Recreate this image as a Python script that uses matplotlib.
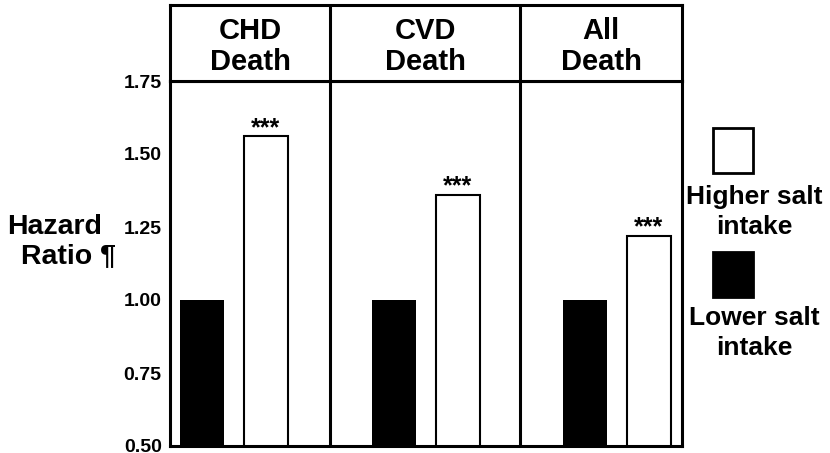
import numpy as np
import matplotlib.pyplot as plt
from matplotlib.patches import Rectangle

plt.rcParams['font.family'] = ['Liberation Sans', 'DejaVu Sans']
plt.rcParams['font.weight'] = 'bold'

# data
panels = ['CHD\nDeath', 'CVD\nDeath', 'All\nDeath']
lower_salt = [1.00, 1.00, 1.00]
higher_salt = [1.56, 1.36, 1.22]
stars = ['***', '***', '***']
yticks = [0.50, 0.75, 1.00, 1.25, 1.50, 1.75]
legend_labels = ['Higher salt\nintake', 'Lower salt\nintake']
ylabel_lines = ['Hazard', 'Ratio \u00b6']

W, H = 830, 453


def fx(x):
    return x / W


def fy(y):
    return 1 - y / H


fig = plt.figure(figsize=(8.3, 4.53), dpi=100)

# panel layout (x in pixel-ish units across the framed area)
xl, xr = 170, 682
edges = [0, 160, 350, 512]
black_x = [32, 224, 415]
gap = 64
bw = 44

ax = fig.add_axes([fx(xl), fy(446), fx(xr - xl), (446 - 81) / H])
hax = fig.add_axes([fx(xl), fy(81), fx(xr - xl), (81 - 5) / H])

for a in (ax, hax):
    for s in a.spines.values():
        s.set_linewidth(2.2)
    a.set_xlim(edges[0], edges[-1])
    for e in edges[1:-1]:
        a.axvline(e, color='black', lw=2.2)

ax.bar(black_x, lower_salt, width=bw, bottom=0, color='black', edgecolor='black', lw=0)
wx = [b + gap for b in black_x]
ax.bar(wx, higher_salt, width=bw, color='white', edgecolor='black', lw=1.5)
for x, v, s in zip(wx, higher_salt, stars):
    ax.annotate(s, (x, v), xytext=(0, 1), textcoords='offset points',
                ha='center', va='baseline', fontsize=18, fontweight='bold')

ax.set_ylim(0.5, 1.75)
ax.set_yticks(yticks)
ax.set_yticklabels(['%.2f' % t for t in yticks], fontsize=14, fontweight='bold')
ax.tick_params(axis='y', length=0, pad=6)
ax.set_xticks([])

hax.set_ylim(0, 1)
hax.set_xticks([])
hax.set_yticks([])
for i, p in enumerate(panels):
    hax.text((edges[i] + edges[i + 1]) / 2, 0.45, p, ha='center', va='center',
             fontsize=21, fontweight='bold', linespacing=1.15)

# y label, two lines slightly staggered as in the original
fig.text(fx(55), fy(227), ylabel_lines[0], ha='center', va='center',
         fontsize=20.5, fontweight='bold')
fig.text(fx(68), fy(256), ylabel_lines[1], ha='center', va='center',
         fontsize=20.5, fontweight='bold')

# legend
fig.patches.append(Rectangle((fx(713), fy(173)), fx(40), (173 - 128) / H,
                             transform=fig.transFigure, facecolor='white',
                             edgecolor='black', lw=2))
fig.patches.append(Rectangle((fx(713), fy(297)), fx(40), (297 - 252) / H,
                             transform=fig.transFigure, facecolor='black',
                             edgecolor='black', lw=2))
fig.text(fx(754), fy(212), legend_labels[0], ha='center', va='center',
         fontsize=19, fontweight='bold', linespacing=1.3)
fig.text(fx(754), fy(333), legend_labels[1], ha='center', va='center',
         fontsize=19, fontweight='bold', linespacing=1.3)

fig.savefig('out.png', dpi=100)
